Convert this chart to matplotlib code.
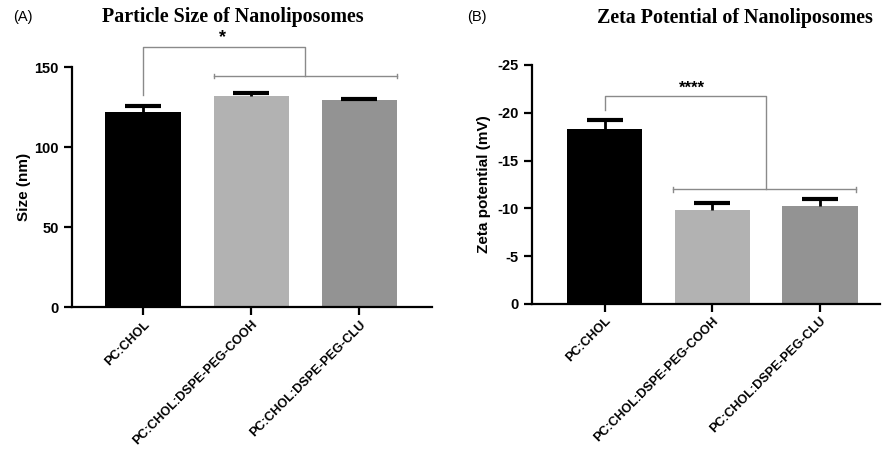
import matplotlib
matplotlib.use("Agg")
import matplotlib.pyplot as plt

groups = ["PC:CHOL", "PC:CHOL:DSPE-PEG-COOH", "PC:CHOL:DSPE-PEG-CLU"]
bar_colors = ["#000000", "#b2b2b2", "#939393"]

size_mean = [122.0, 132.0, 129.5]
size_err = [4.0, 2.0, 0.8]
size_ticks = [0, 50, 100, 150]

zeta_mean = [-18.3, -9.85, -10.2]
zeta_err = [0.9, 0.75, 0.75]
zeta_ticks = [0, -5, -10, -15, -20, -25]

SANS = ["Liberation Sans", "DejaVu Sans"]
SERIF = ["Liberation Serif", "DejaVu Serif"]
BRACKET = "#8a8a8a"

fig = plt.figure(figsize=(8.83, 4.51), dpi=100)
axA = fig.add_axes([0.0815, 0.319, 0.4075, 0.532])
axB = fig.add_axes([0.602, 0.326, 0.395, 0.530])


def style(ax, ticks):
    ax.spines[["top", "right"]].set_visible(False)
    for s in ("left", "bottom"):
        ax.spines[s].set_linewidth(1.6)
    ax.tick_params(width=1.6, length=6, direction="out")
    ax.tick_params(axis="x", pad=2)
    ax.set_yticks(ticks)
    ax.set_yticklabels([str(t) for t in ticks], fontsize=10.5, fontweight="bold", family=SANS)
    ax.set_xticks(range(len(groups)))
    ax.set_xticklabels(groups, rotation=45, ha="right", rotation_mode="anchor",
                       fontsize=9.2, fontweight="bold", family=SANS)


def bars(ax, mean, err):
    x = list(range(len(groups)))
    ax.bar(x, mean, width=0.7, color=bar_colors, zorder=2)
    # error bar drawn away from zero only (upper side in the plot)
    tips = [m + e if m >= 0 else m - e for m, e in zip(mean, err)]
    _, caps, _ = ax.errorbar(x, tips, yerr=[[0] * len(x), [0] * len(x)], fmt="none",
                             ecolor="black", capsize=13, capthick=3, zorder=3)
    for c in caps[1:]:
        c.set_visible(False)
    ax.vlines(x, mean, tips, color="black", lw=2, zorder=3)


# (A) particle size
bars(axA, size_mean, size_err)
style(axA, size_ticks)
axA.set_xlim(-0.66, 2.67)
axA.set_ylim(0, 150)
axA.set_ylabel("Size (nm)", fontsize=11, fontweight="bold", family=SANS, labelpad=2)
kw = dict(color=BRACKET, lw=1.0, clip_on=False)
axA.plot([0, 0, 1.5, 1.5], [132.5, 162.5, 162.5, 144.4], **kw)
axA.plot([0.65, 2.35], [144.4, 144.4], **kw)
axA.plot([0.65, 0.65], [143, 145.8], **kw)
axA.plot([2.35, 2.35], [143, 145.8], **kw)
axA.text(0.73, 163, "*", ha="center", va="bottom", fontsize=13, fontweight="bold",
         family=SANS, clip_on=False)
fig.text(0.264, 0.962, "Particle Size of Nanoliposomes", ha="center", va="center",
         fontsize=14.4, fontweight="bold", family=SERIF)
fig.text(0.015, 0.962, "(A)", ha="left", va="center", fontsize=10.5, family=SANS)

# (B) zeta potential
bars(axB, zeta_mean, zeta_err)
style(axB, zeta_ticks)
axB.set_xlim(-0.68, 2.56)
axB.set_ylim(0, -25)
axB.set_ylabel("Zeta potential (mV)", fontsize=11, fontweight="bold", family=SANS, labelpad=4)
axB.plot([0, 0, 1.5, 1.5], [-20.3, -21.8, -21.8, -12.0], **kw)
axB.plot([0.63, 2.33], [-12.0, -12.0], **kw)
axB.plot([0.63, 0.63], [-11.75, -12.25], **kw)
axB.plot([2.33, 2.33], [-11.75, -12.25], **kw)
axB.text(0.81, -21.8, "****", ha="center", va="bottom", fontsize=12, fontweight="bold",
         family=SANS, clip_on=False)
fig.text(0.832, 0.96, "Zeta Potential of Nanoliposomes", ha="center", va="center",
         fontsize=14.4, fontweight="bold", family=SERIF)
fig.text(0.529, 0.962, "(B)", ha="left", va="center", fontsize=10.5, family=SANS)

fig.savefig("out.png", dpi=100)
